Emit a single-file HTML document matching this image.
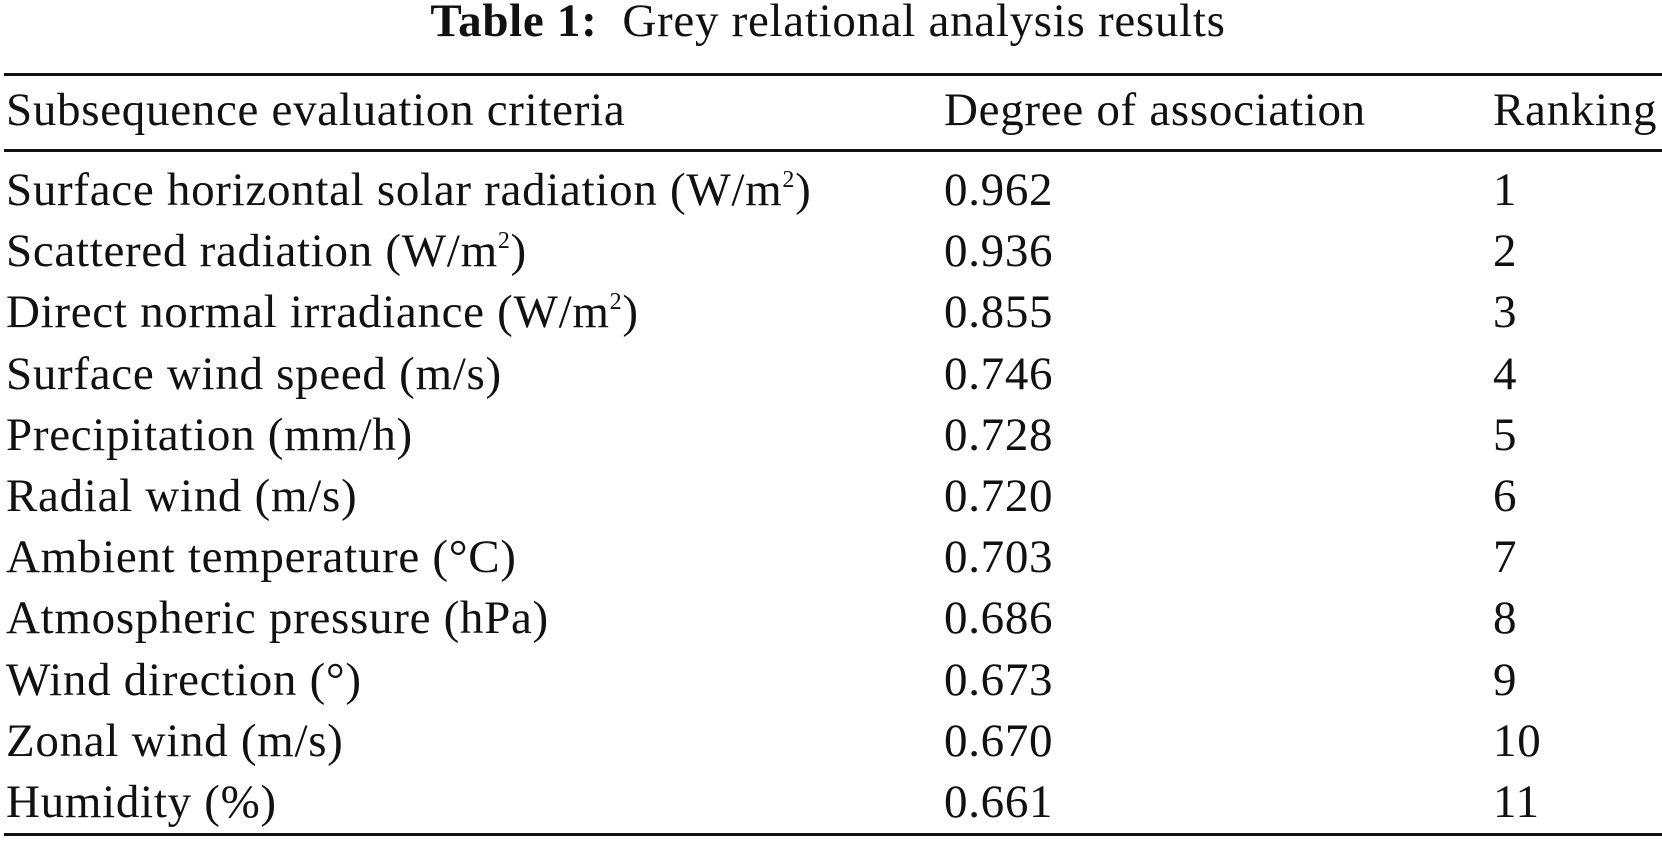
<!DOCTYPE html>
<html><head><meta charset="utf-8"><style>
body{margin:0;width:1662px;height:842px;background:#fff;position:relative;overflow:hidden;font-family:"Liberation Serif",serif;color:#111}
.t{position:absolute;white-space:nowrap;font-size:47px;line-height:50px;letter-spacing:0.7px}
.rule{position:absolute;left:4px;width:1658px;height:3px;background:#111}
sup{font-size:24px;vertical-align:18px;line-height:0}
</style></head><body>
<div class="t" style="left:0;width:1656px;text-align:center;top:-4px"><b>Table 1:</b>&nbsp; Grey relational analysis results</div>
<div class="rule" style="top:73px"></div>
<div class="rule" style="top:149px"></div>
<div class="rule" style="top:833px"></div>
<div class="t" style="left:6px;top:85px">Subsequence evaluation criteria</div>
<div class="t" style="left:944px;top:85px">Degree of association</div>
<div class="t" style="left:1493px;top:85px">Ranking</div>
<div id="rows"></div>
<script>
const criteria=["Surface horizontal solar radiation (W/m<sup>2</sup>)","Scattered radiation (W/m<sup>2</sup>)","Direct normal irradiance (W/m<sup>2</sup>)","Surface wind speed (m/s)","Precipitation (mm/h)","Radial wind (m/s)","Ambient temperature (°C)","Atmospheric pressure (hPa)","Wind direction (°)","Zonal wind (m/s)","Humidity (%)"];
const degrees=["0.962","0.936","0.855","0.746","0.728","0.720","0.703","0.686","0.673","0.670","0.661"];
const ranks=["1","2","3","4","5","6","7","8","9","10","11"];
const host=document.getElementById('rows');
criteria.forEach((c,i)=>{
  const top=165+i*61.2;
  const a=document.createElement('div');a.className='t';a.style.left='6px';a.style.top=top+'px';a.innerHTML=c;
  
  
  const b=document.createElement('div');b.className='t';b.style.left='944px';b.style.top=top+'px';b.textContent=degrees[i];
  
  
  const r=document.createElement('div');r.className='t';r.style.left='1493px';r.style.top=top+'px';r.textContent=ranks[i];
  
  
  host.append(a,b,r);
});
</script>
</body></html>
